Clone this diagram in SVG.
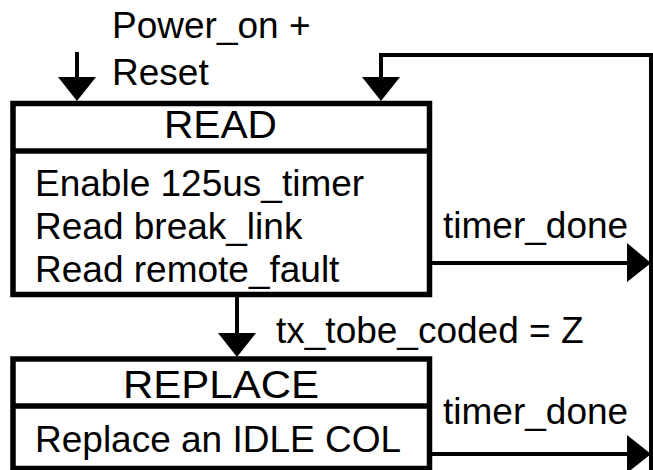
<svg xmlns="http://www.w3.org/2000/svg" width="653" height="470" viewBox="0 0 653 470">
<style>
text { font-family: "Liberation Sans", Arial, sans-serif; fill: #000; }
.body { font-size: 37px; }
.title { font-size: 39px; }
.box { fill: #fff; stroke: #000; stroke-width: 5.5; }
.div { stroke: #000; stroke-width: 5.5; }
.conn { fill: none; stroke: #000; stroke-width: 4; }
.head { fill: #000; stroke: none; }
</style>
<rect width="653" height="470" fill="#fff"/>
<g id="connectors">
  <line class="conn" x1="77" y1="52" x2="77" y2="80"/>
  <polygon class="head" points="58,77 96,77 77,101"/>
  <polyline class="conn" points="651,472 651,55 381,55 381,80"/>
  <polygon class="head" points="362,77 400,77 381,101"/>
  <line class="conn" x1="432" y1="263" x2="629" y2="263"/>
  <polygon class="head" points="627,243 651,263 627,282"/>
  <line class="conn" x1="237" y1="297" x2="237" y2="336"/>
  <polygon class="head" points="218,333 256,333 237,357"/>
  <line class="conn" x1="432" y1="454" x2="629" y2="454"/>
  <polygon class="head" points="627,435 651,454 627,473"/>
  <text class="body" x="112" y="38">Power_on +</text>
  <text class="body" x="112" y="85">Reset</text>
  <text class="body" x="443" y="238">timer_done</text>
  <text class="body" x="276" y="343">tx_tobe_coded = Z</text>
  <text class="body" x="443" y="424">timer_done</text>
</g>
<g id="read">
  <rect class="box" x="13" y="103.5" width="416.5" height="191"/>
  <line class="div" x1="13" y1="151" x2="429.5" y2="151"/>
  <text class="title" x="164" y="138" textLength="113" lengthAdjust="spacingAndGlyphs">READ</text>
  <text class="body" x="35" y="196">Enable 125us_timer</text>
  <text class="body" x="35" y="239">Read break_link</text>
  <text class="body" x="35" y="282">Read remote_fault</text>
</g>
<g id="replace">
  <rect class="box" x="13" y="359" width="416.5" height="109.5"/>
  <line class="div" x1="13" y1="406" x2="429.5" y2="406"/>
  <text class="title" x="123" y="398" textLength="196" lengthAdjust="spacingAndGlyphs">REPLACE</text>
  <text class="body" x="35" y="452">Replace an IDLE COL</text>
</g>
</svg>
